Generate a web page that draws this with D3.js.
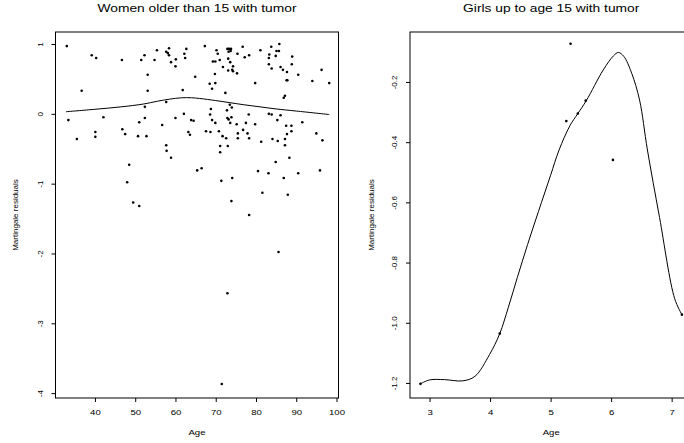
<!DOCTYPE html>
<html>
<head>
<meta charset="utf-8">
<script src="https://cdn.jsdelivr.net/npm/d3@7.9.0/dist/d3.min.js"></script>
<style>
  body { margin: 0; background: #fff; }
  svg { display: block; font-family: "Liberation Sans", Arial, sans-serif; }
</style>
</head>
<body>
<div id="chart"></div>
<script>
// Women older than 15: [age, martingale residual]
const womenPoints = [
  [33.0,0.97],[39.2,0.84],[40.3,0.80],[46.7,0.77],[51.5,0.77],[52.3,0.84],[55.4,0.91],[54.8,0.77],
  [57.7,0.89],[58.1,0.87],[58.4,0.94],[58.4,0.84],[58.9,0.74],[60.1,0.78],[60.0,0.68],[62.2,0.86],
  [62.7,0.93],[62.4,0.80],[64.9,0.53],[53.1,0.56],[36.7,0.33],[53.1,0.33],[61.8,0.34],[52.4,0.10],
  [57.7,0.17],[62.1,0.00],[67.3,0.97],[70.2,0.91],[72.9,0.93],[73.3,0.93],[73.8,0.93],[73.2,0.89],
  [73.7,0.90],[70.5,0.86],[75.4,0.86],[76.7,0.96],[77.2,0.81],[78.3,0.84],[81.1,0.91],[83.8,0.96],
  [85.1,0.90],[85.7,0.90],[85.8,1.00],[83.3,0.85],[84.9,0.83],[83.2,0.80],[89.0,0.82],[69.3,0.75],
  [69.9,0.75],[71.0,0.77],[73.1,0.79],[73.6,0.74],[71.8,0.67],[74.3,0.68],[73.1,0.62],[74.1,0.63],
  [74.3,0.61],[75.3,0.58],[83.2,0.71],[83.9,0.65],[88.9,0.71],[86.1,0.67],[86.7,0.63],[87.7,0.60],
  [69.8,0.57],[90.5,0.56],[96.3,0.63],[87.6,0.48],[87.8,0.48],[94.0,0.47],[98.2,0.44],[68.5,0.43],
  [69.9,0.44],[69.1,0.36],[79.8,0.44],[72.4,0.30],[87.2,0.26],[86.9,0.23],[68.8,0.07],[73.5,0.13],
  [74.0,0.09],[72.8,0.05],[68.6,-0.01],[78.2,-0.01],[83.2,0.00],[83.9,-0.01],[86.1,-0.02],[33.4,-0.09],
  [42.1,-0.05],[35.5,-0.36],[40.1,-0.26],[40.1,-0.33],[46.8,-0.22],[47.5,-0.29],[51.0,-0.12],[52.4,-0.06],
  [50.7,-0.32],[52.8,-0.32],[56.7,-0.16],[60.0,-0.06],[63.9,-0.09],[64.5,-0.10],[63.2,-0.26],[63.6,-0.30],
  [57.7,-0.45],[57.8,-0.53],[58.9,-0.63],[48.5,-0.73],[48.0,-0.98],[65.4,-0.81],[69.1,-0.09],[69.9,-0.13],
  [72.9,-0.06],[73.2,-0.08],[73.9,-0.05],[73.6,-0.13],[75.2,-0.15],[77.5,-0.13],[79.8,-0.15],[85.3,-0.09],
  [91.5,-0.12],[87.5,-0.17],[88.8,-0.17],[88.8,-0.25],[87.7,-0.29],[67.6,-0.25],[68.7,-0.26],[70.8,-0.25],
  [71.7,-0.32],[72.6,-0.35],[75.5,-0.28],[75.5,-0.35],[76.8,-0.23],[77.9,-0.28],[78.3,-0.35],[81.3,-0.40],
  [84.1,-0.36],[85.4,-0.39],[87.2,-0.36],[87.2,-0.45],[71.1,-0.46],[73.0,-0.46],[71.1,-0.55],[95.0,-0.28],
  [96.5,-0.38],[88.3,-0.63],[84.9,-0.69],[66.5,-0.78],[80.5,-0.82],[83.1,-0.85],[90.5,-0.85],[95.9,-0.81],
  [71.4,-0.96],[74.1,-0.92],[86.9,-0.92],[81.6,-1.13],[87.9,-1.16],[73.9,-1.25],[49.5,-1.27],[51.0,-1.32],
  [78.3,-1.45],[85.6,-1.98],[72.9,-2.57],[71.5,-3.87]
];
const womenSmooth = [
  [32.8,0.03],[40,0.065],[46.5,0.10],[52,0.14],[55.5,0.18],[58.5,0.21],[61.5,0.23],[64,0.23],
  [66,0.22],[70,0.19],[73.5,0.16],[77,0.13],[81,0.10],[85,0.07],[90,0.04],[98.2,-0.01]
];

// Girls up to age 15
const girlsPoints = [
  [2.85,-1.203],[4.16,-1.036],[5.26,-0.33],[5.33,-0.073],[5.45,-0.305],[5.58,-0.262],[6.03,-0.459],[7.17,-0.973]
];
const girlsSmooth = [
  [2.85,-1.203],[3.0,-1.19],[3.25,-1.189],[3.55,-1.193],[3.75,-1.178],[3.99,-1.106],[4.16,-1.036],
  [4.3,-0.95],[4.45,-0.85],[4.62,-0.74],[4.8,-0.63],[5.0,-0.51],[5.14,-0.426],
  [5.32,-0.345],[5.45,-0.305],[5.59,-0.262],[5.87,-0.16],[6.04,-0.113],[6.12,-0.102],
  [6.21,-0.115],[6.34,-0.171],[6.47,-0.26],[6.6,-0.426],[6.8,-0.65],[7.05,-0.92],[7.17,-0.973]
];

const womenXTicks = [40, 50, 60, 70, 80, 90, 100];
const womenYTicks = [-4, -3, -2, -1, 0, 1];
const girlsXTicks = [3, 4, 5, 6, 7];
const girlsYTicks = [-1.2, -1.0, -0.8, -0.6, -0.4, -0.2];

const width = 684;
const height = 443;
const stretch = 1.2; // text in the picture is wider than tall

const svg = d3.select('#chart')
  .append('svg')
  .attr('width', width)
  .attr('height', height);

function renderPanel(opts) {
  const x = d3.scaleLinear().domain(opts.xDomain).range([opts.left, opts.right]);
  const y = d3.scaleLinear().domain(opts.yDomain).range([opts.bottom, opts.top]);
  const g = svg.append('g');

  // x axis
  const xAxis = g.append('g')
    .attr('transform', `translate(0,${opts.bottom})`)
    .call(d3.axisBottom(x).tickValues(opts.xTicks).tickSize(4).tickSizeOuter(0).tickFormat(opts.xFormat));
  xAxis.select('.domain').remove();
  xAxis.selectAll('text')
    .attr('y', 17.5).attr('dy', null)
    .attr('font-size', 8).attr('fill', '#000')
    .attr('transform', `scale(${stretch},1)`);

  // y axis, labels turned like R does
  const yAxis = g.append('g')
    .attr('transform', `translate(${opts.left},0)`)
    .call(d3.axisLeft(y).tickValues(opts.yTicks).tickSize(4).tickSizeOuter(0).tickFormat(opts.yFormat));
  yAxis.select('.domain').remove();
  yAxis.selectAll('text')
    .attr('x', 0).attr('y', 0).attr('dy', null)
    .attr('text-anchor', 'middle')
    .attr('font-size', 8).attr('fill', '#000')
    .attr('transform', 'translate(-13,0) rotate(-90)');
  g.selectAll('.tick line').attr('stroke', '#000');

  // box
  g.append('rect')
    .attr('x', opts.left).attr('y', opts.top)
    .attr('width', opts.right - opts.left).attr('height', opts.bottom - opts.top)
    .attr('fill', 'none').attr('stroke', '#000').attr('stroke-width', 1);

  const line = d3.line()
    .x((d) => x(d[0]))
    .y((d) => y(d[1]))
    .curve(d3.curveCatmullRom);

  g.append('path')
    .datum(opts.smooth)
    .attr('d', line)
    .attr('fill', 'none')
    .attr('stroke', '#000')
    .attr('stroke-width', 1);

  g.append('g')
    .selectAll('circle')
    .data(opts.points)
    .join('circle')
    .attr('cx', (d) => x(d[0]))
    .attr('cy', (d) => y(d[1]))
    .attr('r', 1.3)
    .attr('fill', '#000');

  const cx = (opts.left + opts.right) / 2;
  const cy = (opts.top + opts.bottom) / 2;

  g.append('text')
    .attr('transform', `translate(${cx},12) scale(${stretch},1)`)
    .attr('text-anchor', 'middle')
    .attr('font-size', 11.5)
    .text(opts.title);

  g.append('text')
    .attr('transform', `translate(${cx},${opts.bottom + 37}) scale(${stretch},1)`)
    .attr('text-anchor', 'middle')
    .attr('font-size', 8)
    .text('Age');

  g.append('text')
    .attr('transform', `translate(${opts.left - opts.ylabOffset},${cy}) rotate(-90)`)
    .attr('text-anchor', 'middle')
    .attr('font-size', 8)
    .text('Martingale residuals');
}

renderPanel({
  left: 55.5, right: 338.5, top: 32, bottom: 398,
  xDomain: [30.2, 100.5], yDomain: [-4.07, 1.172],
  xTicks: womenXTicks, yTicks: womenYTicks,
  xFormat: (d) => String(d), yFormat: (d) => String(d),
  points: womenPoints, smooth: womenSmooth,
  title: 'Women older than 15 with tumor', ylabOffset: 38
});

renderPanel({
  left: 410, right: 692.4, top: 32, bottom: 398,
  xDomain: [2.677, 7.343], yDomain: [-1.25, -0.034],
  xTicks: girlsXTicks, yTicks: girlsYTicks,
  xFormat: (d) => String(d), yFormat: (d) => d.toFixed(1),
  points: girlsPoints, smooth: girlsSmooth,
  title: 'Girls up to age 15 with tumor', ylabOffset: 36
});
</script>
</body>
</html>
